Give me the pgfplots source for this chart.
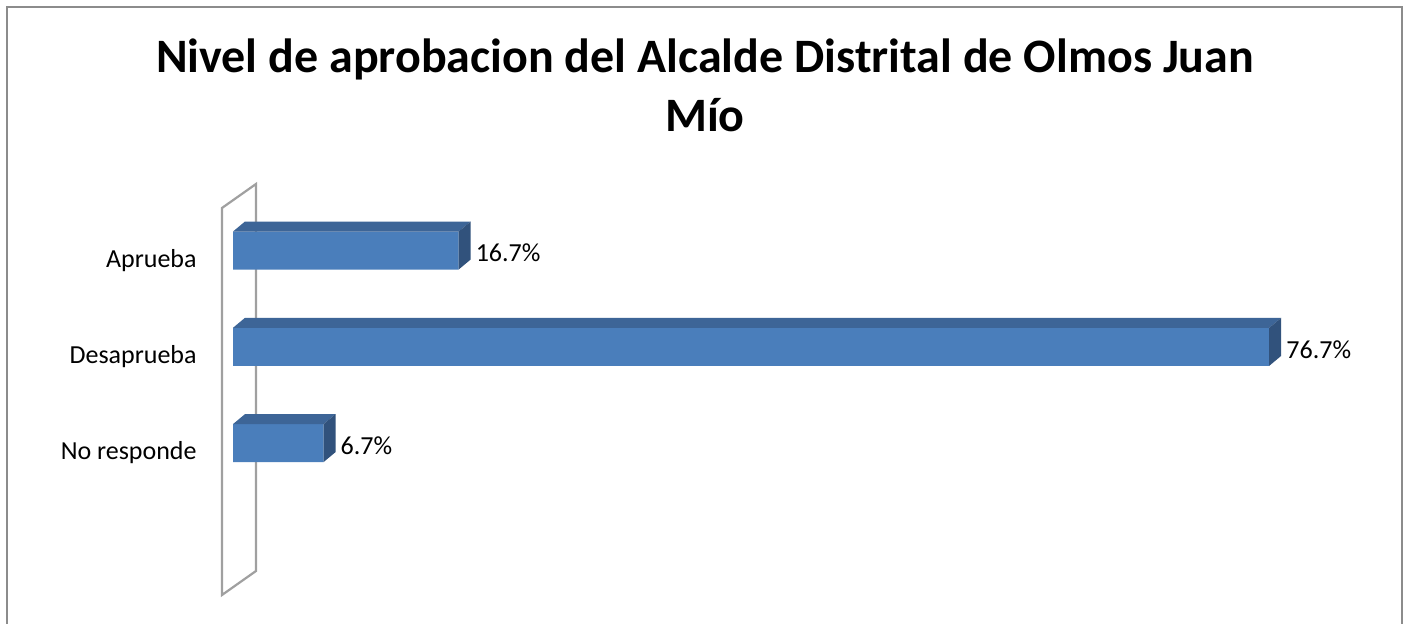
\documentclass[border=0pt]{standalone}
\usepackage{pgfplots}
\pgfplotsset{compat=1.18}
\usepackage{fontspec}
\setmainfont{Carlito}
\definecolor{barfront}{HTML}{4A7EBB}
\definecolor{bartop}{HTML}{3D6597}
\definecolor{barside}{HTML}{31527C}
\definecolor{wallc}{HTML}{A0A0A0}
\definecolor{framec}{HTML}{8C8C8C}
\newcommand{\barfaces}[2]{%
  \fill[bartop] ([yshift=9.5pt]axis cs:0,#2) -- ([yshift=9.5pt]axis cs:#1,#2) -- ([shift={(6pt,14.5pt)}]axis cs:#1,#2) -- ([shift={(6pt,14.5pt)}]axis cs:0,#2) -- cycle;
  \fill[barside] ([yshift=-9.5pt]axis cs:#1,#2) -- ([yshift=9.5pt]axis cs:#1,#2) -- ([shift={(6pt,14.5pt)}]axis cs:#1,#2) -- ([shift={(6pt,-4.5pt)}]axis cs:#1,#2) -- cycle;
}
\begin{document}
\begin{tikzpicture}
\useasboundingbox (0,0) rectangle (704pt,312pt);
\fill[white] (0,0) rectangle (704pt,312pt);
\draw[framec, line width=1pt] (3.5pt,-5pt) -- (3.5pt,308.5pt) -- (701pt,308.5pt) -- (701pt,-5pt);
\node[font=\bfseries\fontsize{24}{29.5}\selectfont, anchor=base, inner sep=0pt] at (352.5pt,275.5pt) {Nivel de aprobacion del Alcalde Distrital de Olmos Juan};
\node[font=\bfseries\fontsize{24}{29.5}\selectfont, anchor=base, inner sep=0pt] at (352.5pt,246pt) {Mío};
\begin{axis}[
  at={(116.5pt,13.4pt)}, anchor=south west,
  scale only axis, width=540.4pt, height=197.4pt,
  xmin=0, xmax=80, ymin=-0.6, ymax=3.5,
  clip=false,
  axis line style={draw=none},
  xtick=\empty,
  ytick={1,2,3},
  yticklabels={No responde,Desaprueba,Aprueba},
  major tick length=0pt,
  y tick label style={anchor=base east, inner sep=0pt, xshift=-18pt, yshift=-8.25pt, font=\fontsize{13}{15}\selectfont},
  xbar, bar width=19pt,
  nodes near coords,
  point meta=explicit symbolic,
  every node near coord/.append style={anchor=base west, inner sep=0pt, xshift=8.4pt, yshift=-5.6pt, font=\fontsize{13}{15}\selectfont, text=black},
]
% back wall
\draw[wallc, line width=1.1pt, fill=white] (axis cs:-0.814,3.442) -- (axis cs:-0.814,-0.577) -- (axis cs:1.702,-0.328) -- (axis cs:1.702,3.691) -- cycle;
\addplot[fill=barfront, draw=none] coordinates {(16.7,3) [16.7\%] (76.7,2) [76.7\%] (6.7,1) [6.7\%]};
% 3D faces
\barfaces{16.7}{3}
\barfaces{76.7}{2}
\barfaces{6.7}{1}
\end{axis}
\end{tikzpicture}
\end{document}
